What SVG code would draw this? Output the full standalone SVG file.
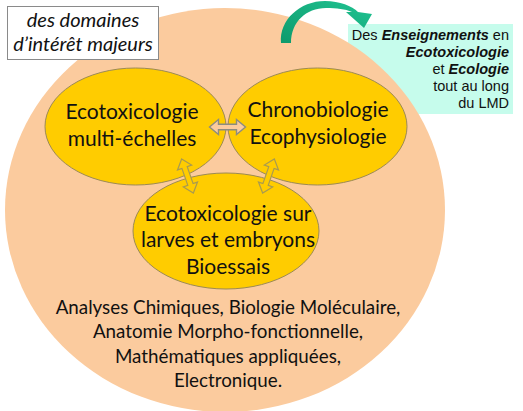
<svg xmlns="http://www.w3.org/2000/svg" width="523" height="411" viewBox="0 0 523 411">
<defs>
<style>
.t{font-family:Lato,"Open Sans","Liberation Sans",sans-serif;fill:#111;text-anchor:middle}
.big{font-size:21px}
.mid{font-size:18.8px}
.lab{font-size:20px;font-style:italic}
.ar{font-family:"Liberation Sans",Arial,sans-serif;font-size:14.5px;fill:#111;text-anchor:end}
.ell{fill:#FFCC00;stroke:#9C8A55;stroke-width:1}
.dbl{fill:#FFCC00;stroke:#A89A50;stroke-width:1.2}
</style>
<linearGradient id="g" x1="0" y1="1" x2="1" y2="0">
<stop offset="0" stop-color="#0E9A6C"/>
<stop offset="1" stop-color="#20C392"/>
</linearGradient>
<path id="da" d="M -18 0 L -9 -7.5 L -9 -2.8 L 9 -2.8 L 9 -7.5 L 18 0 L 9 7.5 L 9 2.8 L -9 2.8 L -9 7.5 Z"/>
</defs>
<rect width="523" height="411" fill="#fff"/>
<g id="teaching">
<rect x="348" y="24" width="165" height="90" fill="#C6FCEC"/>
</g>
<g id="domain">
<ellipse cx="225" cy="210" rx="220" ry="202" fill="#FBCB9E"/>
</g>
<g id="teaching-text">
<text class="ar" x="509" y="40">Des <tspan font-weight="bold" font-style="italic">Enseignements</tspan> en</text>
<text class="ar" x="509" y="57" font-weight="bold" font-style="italic">Ecotoxicologie</text>
<text class="ar" x="509" y="74">et <tspan font-weight="bold" font-style="italic">Ecologie</tspan></text>
<text class="ar" x="509" y="91">tout au long</text>
<text class="ar" x="509" y="108">du LMD</text>
</g>
<g id="label">
<rect x="7.5" y="6.5" width="151" height="53" fill="#fff" stroke="#8a8a8a" stroke-width="1"/>
<text class="t lab" x="83" y="27">des domaines</text>
<text class="t lab" x="83" y="51">d’intérêt majeurs</text>
</g>
<g id="node-ecotox-multi">
<ellipse class="ell" cx="135.5" cy="126.5" rx="90.5" ry="58.5"/>
<text class="t big" x="132" y="119">Ecotoxicologie</text>
<text class="t big" x="132" y="146">multi-échelles</text>
</g>
<g id="node-chrono">
<ellipse class="ell" cx="317.5" cy="126.5" rx="89.5" ry="58.5"/>
<text class="t big" x="318" y="117">Chronobiologie</text>
<text class="t big" x="318" y="144">Ecophysiologie</text>
</g>
<g id="node-larves">
<ellipse class="ell" cx="226" cy="231" rx="93" ry="58"/>
<text class="t big" x="228" y="221">Ecotoxicologie sur</text>
<text class="t big" x="228" y="247">larves et embryons</text>
<text class="t big" x="228" y="274">Bioessais</text>
</g>
<g id="connectors">
<use href="#da" transform="translate(227.5,127)" fill="#FBCB9E" stroke="#8C8C80" stroke-width="1.4"/>
<use href="#da" class="dbl" transform="translate(187.5,176) rotate(71)"/>
<use href="#da" class="dbl" transform="translate(268.5,176) rotate(109)"/>
<path d="M 281 43 C 279 20, 300 1, 325 1 C 340 1, 352 6, 358 12 L 372 14 L 364 28 L 346 12 L 352 12 C 345 9, 337 8, 326 8 C 306 8, 291 22, 291 43 Z" fill="url(#g)"/>
</g>
<g id="disciplines">
<text class="t mid" x="228" y="314">Analyses Chimiques, Biologie Moléculaire,</text>
<text class="t mid" x="228" y="338">Anatomie Morpho-fonctionnelle,</text>
<text class="t mid" x="228" y="363">Mathématiques appliquées,</text>
<text class="t mid" x="228" y="387">Electronique.</text>
</g>
</svg>
